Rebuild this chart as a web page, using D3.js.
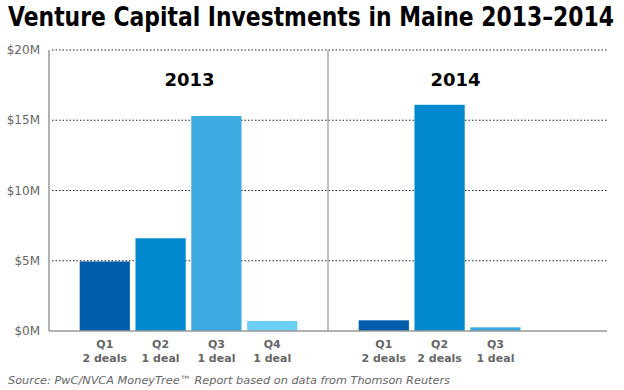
<!DOCTYPE html>
<html>
<head>
<meta charset="utf-8">
<script src="https://d3js.org/d3.v7.min.js"></script>
<style>
  body { margin: 0; background: #fff; }
  svg { font-family: "DejaVu Sans", Verdana, sans-serif; }
  .grid line { stroke: #222; stroke-width: 1.2; stroke-dasharray: 1.5,2; }
  .tick-label { fill: #666; font-size: 12px; }
  .cat-label { fill: #666; font-size: 11px; font-weight: bold; }
</style>
</head>
<body>
<div id="chart"></div>
<script>
var years = ["2013", "2014"];
var quarters2013 = ["Q1", "Q2", "Q3", "Q4"];
var deals2013 = ["2 deals", "1 deal", "1 deal", "1 deal"];
var values2013 = [4.95, 6.6, 15.3, 0.71];
var quarters2014 = ["Q1", "Q2", "Q3"];
var deals2014 = ["2 deals", "2 deals", "1 deal"];
var values2014 = [0.76, 16.1, 0.26];
var yTicks = [0, 5, 10, 15, 20];
var colors = ["#005DAB", "#0089CE", "#3DAAE1", "#6CCFF6"];

var width = 624, height = 390;
var plotLeft = 49, plotRight = 607, plotTop = 50, plotBottom = 331;

// one slot per quarter, 2013 at slots 1-4, divider at 5, 2014 at 6-8
var bars = [];
quarters2013.forEach(function(q, i) {
  bars.push({q: q, deals: deals2013[i], v: values2013[i], slot: i + 1, c: colors[i]});
});
quarters2014.forEach(function(q, i) {
  bars.push({q: q, deals: deals2014[i], v: values2014[i], slot: i + 6, c: colors[i]});
});

var x = d3.scaleLinear().domain([0, 10]).range([plotLeft, plotRight]);
var y = d3.scaleLinear().domain([0, 20]).range([plotBottom, plotTop]);
var barW = (x(1) - x(0)) * 0.9;

var svg = d3.select("#chart").append("svg")
  .attr("width", width)
  .attr("height", height);

svg.append("text")
  .attr("x", 8)
  .attr("y", 26)
  .attr("textLength", 606)
  .attr("lengthAdjust", "spacingAndGlyphs")
  .style("font-weight", "bold")
  .style("font-size", "26px")
  .attr("fill", "#000")
  .text("Venture Capital Investments in Maine 2013\u20132014");

/* gridlines */
svg.append("g").attr("class", "grid")
  .selectAll("line")
  .data(yTicks.filter(d => d > 0)).enter()
  .append("line")
  .attr("x1", plotLeft + 3)
  .attr("x2", plotRight)
  .attr("y1", d => y(d))
  .attr("y2", d => y(d));

svg.append("g")
  .selectAll("text")
  .data(yTicks).enter()
  .append("text")
  .attr("class", "tick-label")
  .attr("x", 40)
  .attr("y", d => y(d) + 4)
  .attr("text-anchor", "end")
  .text(d => "$" + d + "M");

/* bars */
svg.append("g")
  .selectAll("rect")
  .data(bars).enter()
  .append("rect")
  .attr("x", d => x(d.slot) - barW / 2)
  .attr("y", d => y(d.v))
  .attr("width", barW)
  .attr("height", d => y(0) - y(d.v))
  .attr("fill", d => d.c);

/* axes */
svg.append("line")
  .attr("x1", plotLeft).attr("x2", plotLeft)
  .attr("y1", plotTop).attr("y2", plotBottom)
  .attr("stroke", "#999").attr("stroke-width", 1.5);
svg.append("line")
  .attr("x1", x(5)).attr("x2", x(5))
  .attr("y1", plotTop).attr("y2", plotBottom)
  .attr("stroke", "#999").attr("stroke-width", 1.2);
svg.append("line")
  .attr("x1", plotLeft).attr("x2", plotRight)
  .attr("y1", plotBottom).attr("y2", plotBottom)
  .attr("stroke", "#999").attr("stroke-width", 1.5);

/* year headings */
svg.append("g")
  .selectAll("text")
  .data(years).enter()
  .append("text")
  .attr("x", (d, i) => i === 0 ? x(2.5) + 1 : x(7.5) - 12)
  .attr("y", 86)
  .attr("text-anchor", "middle")
  .style("font-weight", "bold")
  .style("font-size", "18px")
  .attr("fill", "#000")
  .text(d => d);

/* category labels */
var cats = svg.append("g")
  .selectAll("g")
  .data(bars).enter()
  .append("g");
cats.append("text")
  .attr("class", "cat-label")
  .attr("x", d => x(d.slot))
  .attr("y", 348)
  .attr("text-anchor", "middle")
  .text(d => d.q);
cats.append("text")
  .attr("class", "cat-label")
  .attr("x", d => x(d.slot))
  .attr("y", 362)
  .attr("text-anchor", "middle")
  .text(d => d.deals);

svg.append("text")
  .attr("x", 8)
  .attr("y", 384)
  .style("font-style", "italic")
  .style("font-size", "11.3px")
  .attr("fill", "#666")
  .text("Source: PwC/NVCA MoneyTree\u2122 Report based on data from Thomson Reuters");
</script>
</body>
</html>
